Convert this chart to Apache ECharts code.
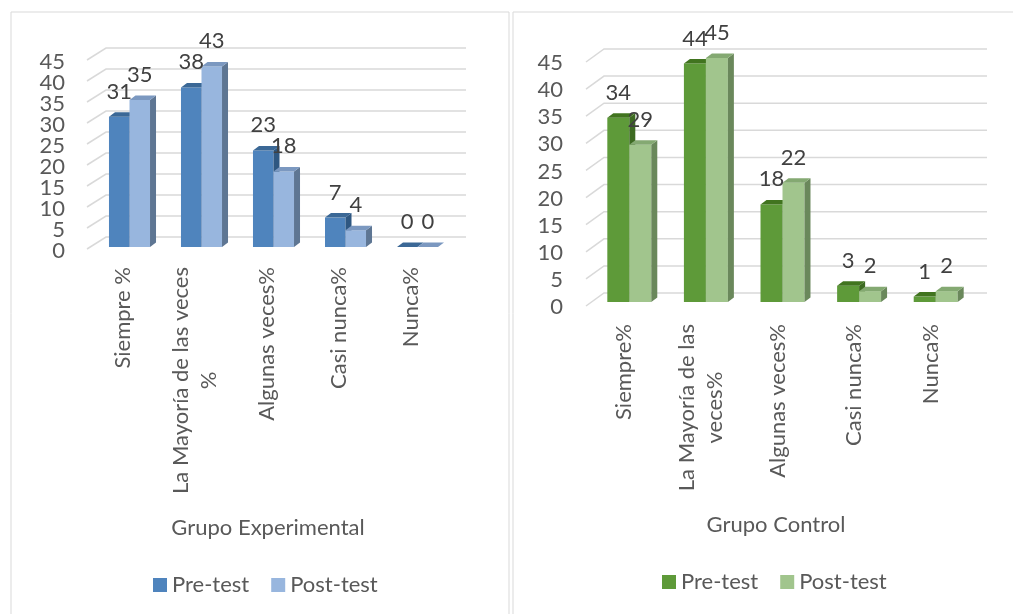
<!DOCTYPE html>
<html>
<head>
<meta charset="utf-8">
<script src="https://cdn.jsdelivr.net/npm/echarts@6/dist/echarts.min.js"></script>
<style>
html,body{margin:0;padding:0;background:#fff;}
#chart{width:1013px;height:614px;}
</style>
</head>
<body>
<div id="chart"></div>
<script>
// ---- Data ----
const categoriesExp = ['Siempre %', 'La Mayoría de las veces\n%', 'Algunas veces%', 'Casi nunca%', 'Nunca%'];
const preExp = [31, 38, 23, 7, 0];
const postExp = [35, 43, 18, 4, 0];

const categoriesCtrl = ['Siempre%', 'La Mayoría de las\nveces%', 'Algunas veces%', 'Casi nunca%', 'Nunca%'];
const preCtrl = [34, 44, 18, 3, 1];
const postCtrl = [29, 45, 22, 2, 2];

const yTicks = [0, 5, 10, 15, 20, 25, 30, 35, 40, 45];
const seriesNames = ['Pre-test', 'Post-test'];
const titleExp = 'Grupo Experimental';
const titleCtrl = 'Grupo Control';

// ---- Styles ----
const FONT = 'Lato';
const FS = 22;
const TXT = '#595959';
const GRID_COLOR = '#d9d9d9';

const blue = {
  pre: {front: '#4f84bd', top: '#3b6896', side: '#2e5781'},
  post: {front: '#98b6de', top: '#7b98c0', side: '#5e7693'}
};
const green = {
  pre: {front: '#5e9a39', top: '#41741f', side: '#3d6a22'},
  post: {front: '#a1c58d', top: '#84a972', side: '#6a885b'}
};

const geomExp = {wallDx: 19, wallDy: -12, offX: 6.5, offY: -2, barRatio: 0.285, depthX: 6, depthY: 4.5, labelGap: 25, tickLabelGap: 22, tickLabelDy: 2};
const geomCtrl = {wallDx: 18, wallDy: -13, offX: 5, offY: -4, barRatio: 0.287, depthX: 6, depthY: 4.5, labelGap: 25, tickLabelGap: 23, tickLabelDy: 1};

// back-wall gridlines + y tick labels, driven by yTicks through the y axis
function wallRenderer(g) {
  return function (params, api) {
    const cs = params.coordSys;
    const v = api.value(1);
    const y = api.coord([0, v])[1];
    return {
      type: 'group',
      children: [
        {type: 'polyline', z2: 0,
         shape: {points: [[cs.x, y], [cs.x + g.wallDx, y + g.wallDy], [cs.x + cs.width + g.wallDx, y + g.wallDy]]},
         style: {stroke: GRID_COLOR, lineWidth: 1.5, fill: null}},
        {type: 'text', z2: 0,
         style: {text: String(v), x: cs.x - g.tickLabelGap, y: y + g.tickLabelDy, align: 'right', verticalAlign: 'middle',
                 fontSize: FS, fontFamily: FONT, fill: TXT}}
      ]
    };
  };
}

function barRenderer(g, which, col) {
  return function (params, api) {
    const i = api.value(0), v = api.value(1);
    const c = api.coord([i, v]);
    const b = api.coord([i, 0]);
    const band = api.size([1, 0])[0];
    const w = band * g.barRatio;
    const x0 = c[0] + g.offX + (which === 0 ? -w : 0);
    const yT = c[1] + g.offY, yB = b[1] + g.offY;
    const d = g.depthX, h = g.depthY;
    const zz = which === 0 ? 1 : 2;
    return {
      type: 'group',
      children: [
        {type: 'rect', z2: zz, shape: {x: x0, y: yT, width: w, height: yB - yT}, style: {fill: col.front}},
        {type: 'polygon', z2: zz, shape: {points: [[x0 + w, yT], [x0 + w + d, yT - h], [x0 + w + d, yB - h], [x0 + w, yB]]}, style: {fill: col.side}},
        {type: 'polygon', z2: zz, shape: {points: [[x0, yT], [x0 + d, yT - h], [x0 + w + d, yT - h], [x0 + w, yT]]}, style: {fill: col.top}},
        {type: 'text', z2: 10, style: {text: String(v), x: x0 + w / 2, y: yT - g.labelGap, align: 'center', verticalAlign: 'middle', fontSize: FS, fontFamily: FONT, fill: '#404040'}}
      ]
    };
  };
}

function catLabel(v) {
  return v.split('\n').map(s => '{c|' + s + '}').join('\n');
}

const xAxisBase = {
  type: 'category',
  axisLine: {show: false},
  axisTick: {show: false},
  splitLine: {show: false},
  axisLabel: {
    rotate: 90, margin: 18, color: TXT, fontSize: FS, fontFamily: FONT, interval: 0,
    formatter: catLabel,
    rich: {c: {align: 'center', fontSize: FS, fontFamily: FONT, color: TXT, lineHeight: 28}}
  }
};
const yAxisBase = {
  type: 'value', min: 0, max: 45, interval: 5,
  axisLine: {show: false}, axisTick: {show: false}, splitLine: {show: false},
  axisLabel: {show: false}
};

const chart = echarts.init(document.getElementById('chart'));
chart.setOption({
  animation: false,
  backgroundColor: '#fff',
  graphic: [
    {type: 'rect', shape: {x: 11, y: 12, width: 498, height: 620}, style: {fill: null, stroke: GRID_COLOR, lineWidth: 1}, silent: true},
    {type: 'rect', shape: {x: 513, y: 12, width: 520, height: 620}, style: {fill: null, stroke: GRID_COLOR, lineWidth: 1}, silent: true}
  ],
  title: [
    {text: titleExp, left: 268, top: 517, padding: 0, textAlign: 'center', textStyle: {fontSize: FS, fontWeight: 'normal', color: TXT, fontFamily: FONT}},
    {text: titleCtrl, left: 776, top: 514, padding: 0, textAlign: 'center', textStyle: {fontSize: FS, fontWeight: 'normal', color: TXT, fontFamily: FONT}}
  ],
  legend: [
    {left: 153, top: 574, padding: 0, itemWidth: 14, itemHeight: 14, itemGap: 22, icon: 'rect', selectedMode: false,
     textStyle: {fontSize: FS, color: TXT, fontFamily: FONT},
     data: [{name: seriesNames[0], itemStyle: {color: blue.pre.front}}, {name: seriesNames[1], itemStyle: {color: blue.post.front}}]},
    {left: 662, top: 571, padding: 0, itemWidth: 14, itemHeight: 14, itemGap: 22, icon: 'rect', selectedMode: false,
     textStyle: {fontSize: FS, color: TXT, fontFamily: FONT},
     data: [{name: seriesNames[0], itemStyle: {color: green.pre.front}}, {name: seriesNames[1], itemStyle: {color: green.post.front}}]}
  ],
  grid: [
    {left: 87, top: 60, width: 360, height: 189},
    {left: 586, top: 62, width: 383, height: 244}
  ],
  xAxis: [
    Object.assign({}, xAxisBase, {gridIndex: 0, data: categoriesExp}),
    Object.assign({}, xAxisBase, {gridIndex: 1, data: categoriesCtrl})
  ],
  yAxis: [
    Object.assign({}, yAxisBase, {gridIndex: 0}),
    Object.assign({}, yAxisBase, {gridIndex: 1})
  ],
  series: [
    {type: 'custom', name: 'wallExp', xAxisIndex: 0, yAxisIndex: 0, z: 1, silent: true,
     renderItem: wallRenderer(geomExp), data: yTicks.map(t => [0, t]), encode: {x: 0, y: 1}},
    {type: 'custom', name: seriesNames[0], xAxisIndex: 0, yAxisIndex: 0, z: 2, itemStyle: {color: blue.pre.front},
     renderItem: barRenderer(geomExp, 0, blue.pre), data: preExp.map((v, i) => [i, v]), encode: {x: 0, y: 1}},
    {type: 'custom', name: seriesNames[1], xAxisIndex: 0, yAxisIndex: 0, z: 2, itemStyle: {color: blue.post.front},
     renderItem: barRenderer(geomExp, 1, blue.post), data: postExp.map((v, i) => [i, v]), encode: {x: 0, y: 1}},
    {type: 'custom', name: 'wallCtrl', xAxisIndex: 1, yAxisIndex: 1, z: 1, silent: true,
     renderItem: wallRenderer(geomCtrl), data: yTicks.map(t => [0, t]), encode: {x: 0, y: 1}},
    {type: 'custom', name: seriesNames[0], xAxisIndex: 1, yAxisIndex: 1, z: 2, itemStyle: {color: green.pre.front},
     renderItem: barRenderer(geomCtrl, 0, green.pre), data: preCtrl.map((v, i) => [i, v]), encode: {x: 0, y: 1}},
    {type: 'custom', name: seriesNames[1], xAxisIndex: 1, yAxisIndex: 1, z: 2, itemStyle: {color: green.post.front},
     renderItem: barRenderer(geomCtrl, 1, green.post), data: postCtrl.map((v, i) => [i, v]), encode: {x: 0, y: 1}}
  ]
});
</script>
</body>
</html>
